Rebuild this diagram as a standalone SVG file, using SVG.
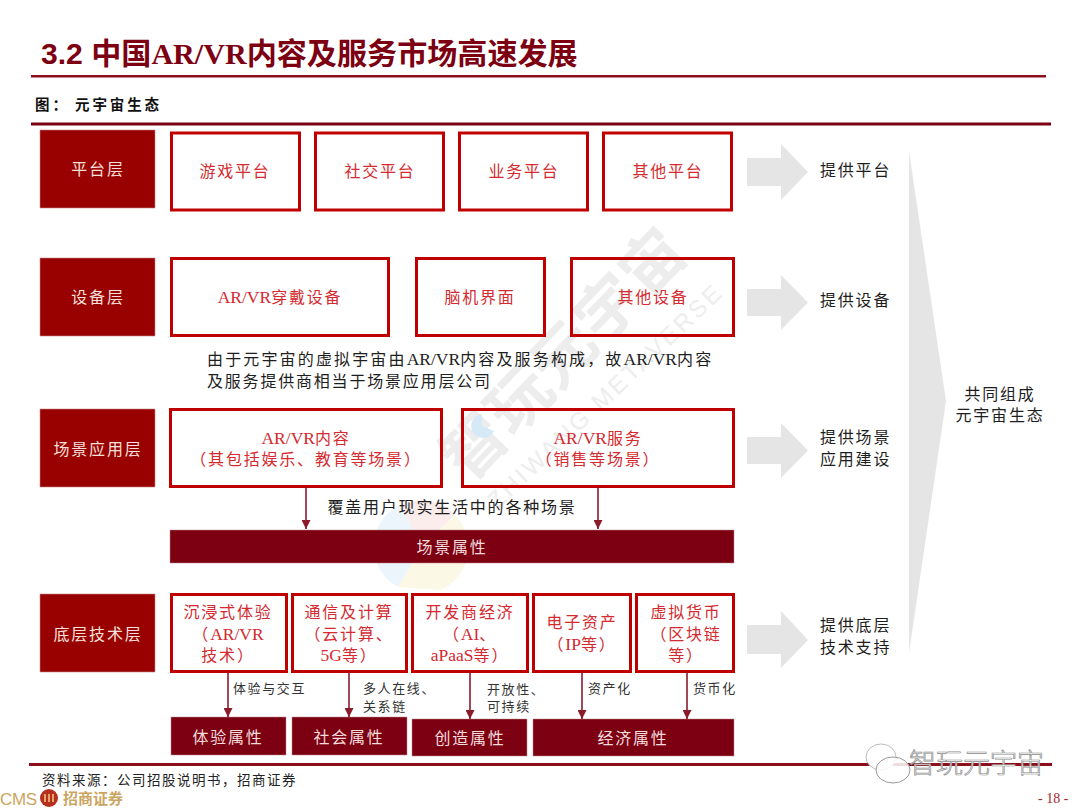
<svg xmlns="http://www.w3.org/2000/svg" width="1080" height="810" viewBox="0 0 1080 810">
<style>
text{font-family:"Liberation Serif","Noto Sans CJK SC",serif;font-size:16px;letter-spacing:1.8px}
.l{font-size:17.5px;letter-spacing:0}
.c{text-anchor:middle}
.side{fill:#990000;stroke:#C8888A;stroke-width:.6}
.side-t{fill:#F6E0DC}
.box{fill:none;stroke:#C00000;stroke-width:3}
.box-t{fill:#D42A30}
.bar{fill:#7D0012;stroke:#C08A90;stroke-width:.5}
.bar-t{fill:#F3DCDC}
.gray{fill:#E5E5E5}
.blk{fill:#1E1E1E}
.sm{font-size:13px;letter-spacing:1.6px;fill:#333}
.conn{stroke:#8B1A2B;stroke-width:1.6;fill:none;marker-end:url(#ah)}
.rule{fill:#8E0F1C}
.wm{fill:#EDEDED;font-family:"Noto Sans CJK SC",sans-serif;font-weight:700}
</style>
<defs>
<marker id="ah" markerUnits="userSpaceOnUse" markerWidth="10" markerHeight="9" refX="9" refY="4.5" orient="auto"><path d="M0 0L9 4.5L0 9Z" fill="#8B1A2B"/></marker>
</defs>
<rect width="1080" height="810" fill="#fff"/>

<g id="watermark">
<path d="M422 547L400 505A46 46 0 0 1 455 515Z" fill="#FCEDED"/>
<path d="M422 547L400 505A46 46 0 0 0 398 587Z" fill="#EBF5FB"/>
<path d="M422 547L455 515A46 46 0 0 1 440 590L398 587Z" fill="#FCF8E6"/>
<text class="wm c" transform="translate(580 369) rotate(-46)" style="font-size:63px;letter-spacing:1px">智玩元宇宙</text>
<path d="M482 414A12 12 0 1 0 494 431L482 426Z" fill="#D5E9F6"/>
<text class="wm c" transform="translate(611 402) rotate(-43.500)" style="font-size:24px;letter-spacing:3px;font-family:'Liberation Sans',sans-serif;font-weight:400">ZHIWANG METAVERSE</text>
</g>

<g id="header">
<text x="41" y="64" style="font-size:30.100px;font-weight:700;letter-spacing:0;fill:#7D0012;font-family:'Liberation Sans','Noto Sans CJK SC',sans-serif">3.2 中国<tspan style="font-family:'Liberation Serif',serif">AR/VR</tspan>内容及服务市场高速发展</text>
<rect class="rule" x="31" y="75" width="1015" height="2.5"/>
<text x="35" y="110" style="font-size:14.5px;font-weight:700;fill:#111;letter-spacing:2.9px">图：</text>
<text x="75" y="110" style="font-size:14.5px;font-weight:700;fill:#111;letter-spacing:2.9px">元宇宙生态</text>
<rect x="31" y="122.500" width="1020" height="3" fill="#7D0012"/>
</g>

<g id="layer-platform"><rect class="side" x="40" y="130" width="115" height="78"/><text class="side-t c" x="98" y="175">平台层</text></g>
<g id="node-game"><rect class="box" x="171.500" y="133" width="128" height="77"/><text class="box-t c" x="235" y="177">游戏平台</text></g>
<g id="node-social"><rect class="box" x="315.500" y="133" width="128" height="77"/><text class="box-t c" x="380" y="177">社交平台</text></g>
<g id="node-business"><rect class="box" x="459.500" y="133" width="128" height="77"/><text class="box-t c" x="524" y="177">业务平台</text></g>
<g id="node-other-platform"><rect class="box" x="603.500" y="133" width="128" height="77"/><text class="box-t c" x="668" y="177">其他平台</text></g>

<g id="layer-device"><rect class="side" x="40" y="258" width="115" height="78"/><text class="side-t c" x="98" y="303">设备层</text></g>
<g id="node-arvr-device"><rect class="box" x="171.500" y="258.500" width="217" height="77"/><text class="box-t c" x="280" y="303"><tspan class="l">AR/VR</tspan>穿戴设备</text></g>
<g id="node-bci"><rect class="box" x="416.500" y="258.500" width="128" height="77"/><text class="box-t c" x="480" y="303">脑机界面</text></g>
<g id="node-other-device"><rect class="box" x="571.500" y="258.500" width="162" height="77"/><text class="box-t c" x="653" y="303">其他设备</text></g>

<g id="note"><text class="blk" x="207" y="365" style="letter-spacing:2.150px">由于元宇宙的虚拟宇宙由<tspan class="l">AR/VR</tspan>内容及服务构成，故<tspan class="l">AR/VR</tspan>内容</text><text class="blk" x="207" y="387">及服务提供商相当于场景应用层公司</text></g>

<g id="layer-scene"><rect class="side" x="40" y="409" width="115" height="78"/><text class="side-t c" x="98" y="455">场景应用层</text></g>
<g id="node-content"><rect class="box" x="170.500" y="409.500" width="271" height="77"/><text class="box-t c" x="306" y="444"><tspan class="l">AR/VR</tspan>内容</text><text class="box-t c" x="306" y="465">（其包括娱乐、教育等场景）</text></g>
<g id="node-service"><rect class="box" x="462.500" y="409.500" width="271" height="77"/><text class="box-t c" x="598" y="444"><tspan class="l">AR/VR</tspan>服务</text><text class="box-t c" x="598" y="465">（销售等场景）</text></g>
<g id="node-scene-attr"><rect class="bar" x="170" y="530" width="564" height="33"/><text class="bar-t c" x="452" y="553">场景属性</text></g>

<g id="layer-tech"><rect class="side" x="40" y="594" width="115" height="78"/><text class="side-t c" x="98" y="640">底层技术层</text></g>
<g id="node-immersive"><rect class="box" x="171.500" y="594.500" width="115" height="77"/><text class="box-t c" x="228" y="618">沉浸式体验</text><text class="box-t c" x="228" y="640">（<tspan class="l">AR/VR</tspan></text><text class="box-t c" x="228" y="661">技术）</text></g>
<g id="node-network"><rect class="box" x="292.500" y="594.500" width="114" height="77"/><text class="box-t c" x="349" y="618">通信及计算</text><text class="box-t c" x="349" y="640">（云计算、</text><text class="box-t c" x="349" y="661"><tspan class="l">5G</tspan>等）</text></g>
<g id="node-developer"><rect class="box" x="412.500" y="594.500" width="115" height="77"/><text class="box-t c" x="470" y="618">开发商经济</text><text class="box-t c" x="470" y="640">（<tspan class="l">AI</tspan>、</text><text class="box-t c" x="470" y="661"><tspan class="l">aPaaS</tspan>等）</text></g>
<g id="node-asset"><rect class="box" x="533.500" y="594.500" width="97" height="77"/><text class="box-t c" x="582" y="628">电子资产</text><text class="box-t c" x="582" y="650">（<tspan class="l">IP</tspan>等）</text></g>
<g id="node-currency"><rect class="box" x="636.500" y="594.500" width="97" height="77"/><text class="box-t c" x="686" y="618">虚拟货币</text><text class="box-t c" x="686" y="640">（区块链</text><text class="box-t c" x="686" y="661">等）</text></g>

<g id="node-attr-exp"><rect class="bar" x="171" y="717" width="115" height="38"/><text class="bar-t c" x="228" y="743">体验属性</text></g>
<g id="node-attr-social"><rect class="bar" x="292" y="717" width="115" height="38"/><text class="bar-t c" x="349" y="743">社会属性</text></g>
<g id="node-attr-create"><rect class="bar" x="412" y="719" width="115" height="37"/><text class="bar-t c" x="470" y="744">创造属性</text></g>
<g id="node-attr-econ"><rect class="bar" x="533" y="719" width="201" height="37"/><text class="bar-t c" x="633" y="744">经济属性</text></g>

<g id="connectors">
<path class="conn" d="M306 487V529"/>
<path class="conn" d="M598 487V529"/>
<path class="conn" d="M228 672V717"/>
<path class="conn" d="M349 672V717"/>
<path class="conn" d="M470 672V719"/>
<path class="conn" d="M582 672V719"/>
<path class="conn" d="M687 672V719"/>
</g>
<g id="connector-labels">
<text class="blk c" x="452" y="513">覆盖用户现实生活中的各种场景</text>
<text class="sm" x="233" y="693">体验与交互</text>
<text class="sm" x="363" y="693">多人在线、</text>
<text class="sm" x="363" y="711">关系链</text>
<text class="sm" x="487" y="694">开放性、</text>
<text class="sm" x="487" y="711">可持续</text>
<text class="sm" x="588" y="693">资产化</text>
<text class="sm" x="693" y="693">货币化</text>
</g>

<g id="provide-arrows">
<path class="gray" d="M747 158H781V144L808 172L781 200V186H747Z"/>
<path class="gray" d="M747 289H781V275L808 302.500L781 330V316H747Z"/>
<path class="gray" d="M747 437H781V423L808 450.500L781 478V464H747Z"/>
<path class="gray" d="M747 625H781V611L808 640L781 668V654H747Z"/>
<path class="gray" d="M909 151L946 401L909 653Z"/>
</g>
<g id="provide-labels">
<text class="blk" x="820" y="176">提供平台</text>
<text class="blk" x="820" y="306">提供设备</text>
<text class="blk" x="820" y="443">提供场景</text>
<text class="blk" x="820" y="465">应用建设</text>
<text class="blk" x="820" y="631">提供底层</text>
<text class="blk" x="820" y="653">技术支持</text>
<text class="blk c" x="1000" y="400">共同组成</text>
<text class="blk c" x="1000" y="421">元宇宙生态</text>
</g>

<g id="footer">
<rect class="rule" x="29" y="763" width="1023" height="3"/>
<text x="42" y="785" style="font-size:13.500px;fill:#222;letter-spacing:1.5px">资料来源：公司招股说明书，招商证券</text>
<text x="0" y="805" style="font-size:17px;letter-spacing:-.3px;fill:#CBA560;font-family:'Liberation Sans',sans-serif">CMS</text>
<circle cx="49" cy="798" r="9" fill="#B5301F"/>
<path d="M45 802V794M49 802V794M53 802V794" stroke="#F2C27A" stroke-width="1.6"/>
<text x="63" y="804" style="font-size:15px;font-weight:700;letter-spacing:0;fill:#CBA560">招商证券</text>
<text x="1038" y="803" style="font-size:14px;letter-spacing:0;fill:#A8272C">- 18 -</text>
</g>

<g id="wechat-mark">
<ellipse cx="881" cy="757" rx="15" ry="13" fill="#fff" stroke="#BDBDBD"/>
<ellipse cx="893" cy="770" rx="17" ry="13" fill="#fff" fill-opacity=".85" stroke="#9A9A9A"/>
<text x="909" y="773" style="font-size:27px;letter-spacing:0;fill:#fff;stroke:#8A8A8A;stroke-width:.7;font-family:'Noto Sans CJK SC',sans-serif;font-weight:300">智玩元宇宙</text>
</g>
</svg>
